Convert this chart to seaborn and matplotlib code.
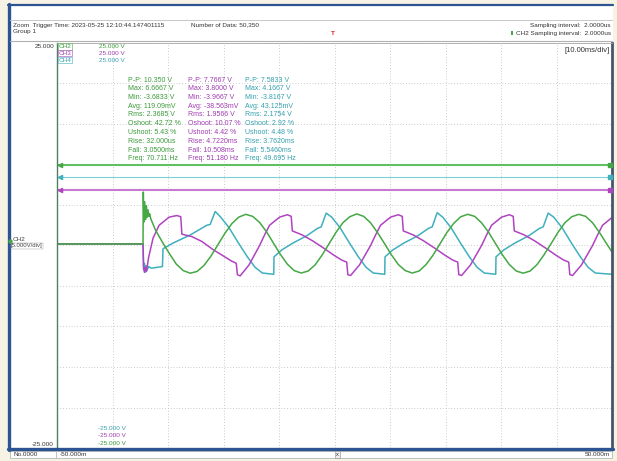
import numpy as np
import pandas as pd
import matplotlib
matplotlib.use("Agg")
import matplotlib.pyplot as plt
import seaborn as sns
from matplotlib.patches import Rectangle
from matplotlib.lines import Line2D

# ------------------------------
# Waveform data (time in ms, voltage in V)
# ------------------------------
ch2_t = [-50.0, -34.5, -34.45, -34.35, -34.2, -34.05, -33.9, -33.75, -33.6, -33.45, -33.3, -33.1,
         -32.25, -31.0, -29.75, -28.5, -27.25, -26.0, -24.75, -23.5, -22.25, -21.0, -19.75, -18.5,
         -17.25, -16.0, -14.75, -13.5, -12.25, -11.0, -9.75, -8.5, -7.25, -6.0, -4.75, -3.5, -2.25,
         -1.0, 0.25, 1.5, 2.75, 4.0, 5.25, 6.5, 7.75, 9.0, 10.25, 11.5, 12.75, 14.0, 15.25, 16.5,
         17.75, 19.0, 20.25, 21.5, 22.75, 24.0, 25.25, 26.5, 27.75, 29.0, 30.25, 31.5, 32.75, 34.0,
         35.25, 36.5, 37.75, 39.0, 40.25, 41.5, 42.75, 44.0, 45.25, 46.5, 47.75, 49.0, 50.0]
ch2_v = [0.19, 0.19, 6.6, 2.9, 5.4, 3.2, 4.9, 3.5, 4.4, 3.6, 3.9, 3.3,
         1.9, 0.4, -1.0, -2.3, -3.1, -3.42, -3.2, -2.45, -1.3, 0.1, 1.5, 2.7,
         3.5, 3.85, 3.6, 2.85, 1.7, 0.3, -1.1, -2.3, -3.1, -3.4, -3.15, -2.4, -1.2,
         0.2, 1.6, 2.8, 3.55, 3.9, 3.6, 2.8, 1.6, 0.25, -1.15, -2.35, -3.1, -3.4, -3.15, -2.35,
         -1.2, 0.2, 1.6, 2.75, 3.55, 3.85, 3.6, 2.8, 1.65, 0.25, -1.15, -2.35, -3.15, -3.42,
         -3.15, -2.35, -1.15, 0.2, 1.6, 2.8, 3.55, 3.85, 3.6, 2.8, 1.6, 0.25, -0.8]

ch3_t = [-50.0, -34.5, -34.4, -34.25, -34.1, -33.9, -33.7, -33.5, -32.7, -31.6, -29.8, -28.4,
         -27.7, -27.5, -25.7, -23.9, -21.9, -20.0, -18.6, -17.7, -17.5, -17.0, -15.4,
         -13.5, -12.6, -11.7, -9.9, -8.5, -7.8, -7.6, -5.8, -4.0, -2.0, -0.1, 1.3, 2.2, 2.4, 2.9, 4.5,
         6.5, 7.4, 8.3, 10.1, 11.5, 12.2, 12.4, 14.2, 16.0, 18.0, 19.9, 21.3, 22.2, 22.4, 22.9, 24.5,
         26.5, 27.4, 28.3, 30.1, 31.5, 32.2, 32.4, 34.2, 36.0, 38.0, 39.9, 41.3, 42.2, 42.4, 42.9, 44.5,
         46.5, 47.4, 48.3, 50.0]
ch3_v = [0.19, 0.19, -2.6, -3.3, -2.7, -3.2, -2.4, -1.5, 0.9, 2.5, 3.5, 3.7,
         3.55, 1.4, 1.1, 0.5, -0.5, -1.3, -1.9, -2.2, -3.6, -3.75, -2.4,
         0.0, 1.3, 2.5, 3.5, 3.8, 3.6, 1.8, 1.3, 0.6, -0.3, -1.2, -1.8, -2.05, -3.6, -3.7, -2.4,
         0.0, 1.3, 2.5, 3.5, 3.8, 3.6, 1.8, 1.3, 0.6, -0.3, -1.2, -1.8, -2.05, -3.6, -3.7, -2.4,
         0.0, 1.3, 2.5, 3.5, 3.8, 3.6, 1.8, 1.3, 0.6, -0.3, -1.2, -1.8, -2.05, -3.6, -3.7, -2.4,
         0.0, 1.3, 2.5, 3.45]

ch4_t = [-50.0, -34.5, -34.4, -34.25, -34.1, -33.95, -33.8, -33.5, -33.0, -32.0, -31.0, -30.9,
         -29.1, -26.0, -23.0, -22.4, -21.5, -20.5, -19.0, -17.3, -15.7, -14.3, -13.0, -10.95,
         -10.9, -9.5, -7.5, -5.0, -3.1, -2.4, -1.5, -0.5, 1.0, 2.7, 4.3, 5.7, 7.0, 9.05,
         9.1, 10.5, 12.5, 15.0, 16.9, 17.6, 18.5, 19.5, 21.0, 22.7, 24.3, 25.7, 27.0, 29.05,
         29.1, 30.5, 32.5, 35.0, 36.9, 37.6, 38.5, 39.5, 41.0, 42.7, 44.3, 45.7, 47.0, 50.0]
ch4_v = [0.19, 0.19, -3.0, -2.2, -3.3, -2.5, -3.1, -2.6, -2.8, -2.7, -2.6, -0.4,
         0.3, 1.3, 2.5, 2.6, 4.2, 3.5, 2.2, 0.3, -1.4, -2.7, -3.4, -3.55,
         -1.4, -0.55, 0.3, 1.2, 2.1, 2.3, 4.0, 3.5, 2.2, 0.3, -1.4, -2.7, -3.4, -3.55,
         -1.4, -0.55, 0.3, 1.2, 2.1, 2.3, 4.05, 3.5, 2.2, 0.3, -1.4, -2.7, -3.4, -3.55,
         -1.4, -0.55, 0.3, 1.2, 2.1, 2.3, 4.0, 3.5, 2.2, 0.3, -1.4, -2.7, -3.4, -3.55]

# level markers of each channel (V)
levels = {"CH2": 9.9, "CH4": 8.5, "CH3": 6.9}

# measurement table
meas_names = ["P-P", "Max", "Min", "Avg", "Rms", "Oshoot", "Ushoot", "Rise", "Fall", "Freq"]
ch2_meas = ["10.350 V", "6.6667 V", "-3.6833 V", "119.09mV", "2.3685 V", "42.72 %", "5.43 %",
            "32.000us", "3.0500ms", "70.711 Hz"]
ch3_meas = ["7.7667 V", "3.8000 V", "-3.9667 V", "-38.563mV", "1.9566 V", "10.07 %", "4.42 %",
            "4.7220ms", "10.508ms", "51.180 Hz"]
ch4_meas = ["7.5833 V", "4.1667 V", "-3.8167 V", "43.125mV", "2.1754 V", "2.92 %", "4.48 %",
            "3.7620ms", "5.5460ms", "49.695 Hz"]

colors = {"CH2": "#45a845", "CH3": "#b044c0", "CH4": "#3fb0bd"}
text_colors = {"CH2": "#3a9a3a", "CH3": "#a03cb0", "CH4": "#35a0ae"}
level_colors = {"CH2": "#62c062", "CH3": "#c57ad0", "CH4": "#7fcdd6"}

df = pd.concat([
    pd.DataFrame({"t": ch4_t, "v": ch4_v, "ch": "CH4"}),
    pd.DataFrame({"t": ch3_t, "v": ch3_v, "ch": "CH3"}),
    pd.DataFrame({"t": ch2_t, "v": ch2_v, "ch": "CH2"}),
], ignore_index=True)

# ------------------------------
# Figure setup
# ------------------------------
sns.set_style("white")
plt.rcParams["font.family"] = ["Liberation Sans", "DejaVu Sans"]

W, H = 617, 461
def fx(x):
    return x / W
def fy(y):
    return 1 - y / H

fig = plt.figure(figsize=(W / 100, H / 100), dpi=100)
fig.patch.set_facecolor("#f7f3e4")

# window frame
fig.add_artist(Rectangle((fx(9), fy(450)), fx(613) - fx(9), fy(5) - fy(450),
                         transform=fig.transFigure, fc="white", ec="none", zorder=0))
fig.add_artist(Rectangle((fx(10), fy(458)), fx(612) - fx(10), fy(451) - fy(458),
                         transform=fig.transFigure, fc="white", ec="#b8b8b8", lw=0.6, zorder=0))
blue = "#2d5492"
fig.add_artist(Line2D([fx(8.5), fx(8.5)], [fy(4), fy(450)], transform=fig.transFigure,
                      color=blue, lw=2.4))
fig.add_artist(Line2D([fx(8), fx(613)], [fy(5), fy(5)], transform=fig.transFigure,
                      color=blue, lw=1.6))
fig.add_artist(Line2D([fx(8), fx(613)], [fy(449), fy(449)], transform=fig.transFigure,
                      color=blue, lw=2.4))
fig.add_artist(Line2D([fx(10), fx(612)], [fy(20.5), fy(20.5)], transform=fig.transFigure,
                      color="#c8c8c8", lw=0.7))
fig.add_artist(Line2D([fx(10), fx(612)], [fy(41.5), fy(41.5)], transform=fig.transFigure,
                      color="#b0b0b0", lw=0.8))

# ------------------------------
# Scope screen
# ------------------------------
ax = fig.add_axes([fx(57), fy(448), fx(612) - fx(57), fy(43) - fy(448)])
ax.set_facecolor("white")
sns.lineplot(data=df, x="t", y="v", hue="ch", hue_order=["CH4", "CH3", "CH2"],
             palette=colors, estimator=None, sort=False, legend=False, linewidth=1.1, ax=ax)
ax.set_xlim(-50, 50)
ax.set_ylim(-25, 25)
ax.set_xticks(np.arange(-50, 51, 10))
ax.set_yticks(np.arange(-25, 26, 5))
ax.grid(True, color="#bcbcbc", linestyle=(0, (1, 2.4)), linewidth=0.6)
ax.tick_params(length=0, labelbottom=False, labelleft=False)
ax.set_xlabel("")
ax.set_ylabel("")
ax.spines["left"].set_color("#4f7f5f")
ax.spines["left"].set_linewidth(1.0)
ax.spines["right"].set_color("#46566a")
ax.spines["right"].set_linewidth(2.0)
ax.spines["top"].set_color("#a8a8a8")
ax.spines["top"].set_linewidth(0.6)
ax.spines["bottom"].set_visible(False)

# channel level lines with end markers
for ch, lv in levels.items():
    lw = 0.8 if ch == "CH4" else 1.5
    ax.axhline(lv, color=level_colors[ch], lw=lw, zorder=1)
    ax.plot([-49.4], [lv], marker="<", ms=3, color=colors[ch], clip_on=False, zorder=3)
    ax.plot([49.6], [lv], marker="s", ms=2.6, color=colors[ch], clip_on=False, zorder=3)

# channel tags and scale values
fs = 4.6
for i, ch in enumerate(["CH2", "CH3", "CH4"]):
    y = 46.5 + i * 6.8
    fig.text(fx(59), fy(y), ch, color=text_colors[ch], fontsize=fs, va="center", ha="left",
             bbox=dict(boxstyle="square,pad=0.08", fc="white", ec=colors[ch], lw=0.4))
    fig.text(fx(99), fy(y), "25.000 V", color=text_colors[ch], fontsize=fs, va="center")
for i, ch in enumerate(["CH4", "CH3", "CH2"]):
    y = 428 + i * 7.8
    fig.text(fx(98), fy(y), "-25.000 V", color=text_colors[ch], fontsize=fs, va="center")

# measurement columns
for col_x, ch, vals in [(128, "CH2", ch2_meas), (188, "CH3", ch3_meas), (245, "CH4", ch4_meas)]:
    for r, (name, val) in enumerate(zip(meas_names, vals)):
        fig.text(fx(col_x), fy(80 + r * 8.75), f"{name}: {val}", color=text_colors[ch],
                 fontsize=5.0, va="center", ha="left")

fig.text(fx(610), fy(50), "[10.00ms/div]", color="#333333", fontsize=5.5,
         ha="right", va="center")

# y scale labels and channel marker on the left
fig.text(fx(54), fy(47), "25.000", color="#333333", fontsize=fs, ha="right", va="center")
fig.text(fx(54), fy(444), "-25.000", color="#333333", fontsize=fs, ha="right", va="center")
fig.add_artist(Line2D([fx(10.5)], [fy(241)], transform=fig.transFigure, marker="o", ms=2.2,
                      color=colors["CH2"]))
fig.text(fx(13), fy(239), "CH2", color="#444444", fontsize=fs, va="center")
fig.text(fx(11), fy(246), "[5.000V/div]", color="#444444", fontsize=fs - 0.3, va="center",
         bbox=dict(boxstyle="square,pad=0.05", fc="white", ec="#999999", lw=0.3))

# header
fig.text(fx(13), fy(25), "Zoom  Trigger Time: 2023-05-25 12:10:44.147401115", color="#333333",
         fontsize=fs, va="center")
fig.text(fx(13), fy(31), "Group 1", color="#333333", fontsize=fs, va="center")
fig.text(fx(191), fy(25), "Number of Data: 50,350", color="#333333", fontsize=fs, va="center")
fig.text(fx(611), fy(25), "Sampling interval:  2.0000us", color="#333333", fontsize=fs,
         ha="right", va="center")
fig.text(fx(611), fy(33), "CH2 Sampling interval:  2.0000us", color="#333333", fontsize=fs,
         ha="right", va="center")
fig.add_artist(Rectangle((fx(510.5), fy(35)), fx(2) - fx(0), fy(31) - fy(35),
                         transform=fig.transFigure, fc=colors["CH2"], ec="none"))
fig.text(fx(333), fy(33), "T", color="#e02020", fontsize=fs, ha="center", va="center",
         fontweight="bold")

# footer
fig.text(fx(14), fy(454.5), "No.0000", color="#333333", fontsize=fs, va="center")
fig.text(fx(60), fy(454.5), "-50.000m", color="#333333", fontsize=fs, va="center")
fig.text(fx(610), fy(454.5), "50.000m", color="#333333", fontsize=fs, ha="right", va="center")
fig.text(fx(337.5), fy(454.5), "x", color="#333333", fontsize=fs - 0.5, ha="center", va="center",
         bbox=dict(boxstyle="square,pad=0.15", fc="#eeeeee", ec="#888888", lw=0.4))
fig.add_artist(Line2D([fx(56), fx(56)], [fy(451), fy(458)], transform=fig.transFigure,
                      color="#b8b8b8", lw=0.6))

plt.savefig("out.png", dpi=100, facecolor=fig.get_facecolor())
